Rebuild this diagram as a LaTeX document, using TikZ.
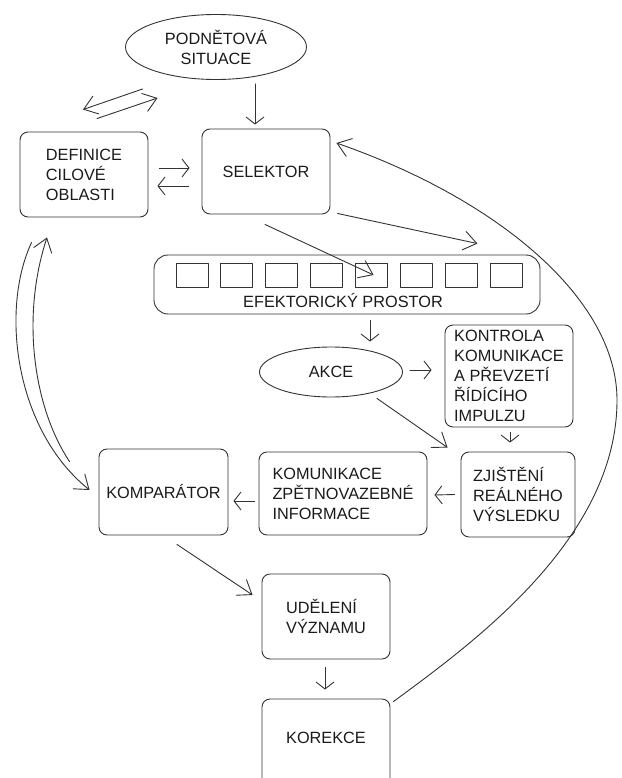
\documentclass[tikz,border=0pt]{standalone}
\usepackage{fontspec}
\setmainfont{Liberation Sans}
\usetikzlibrary{shapes.geometric,arrows.meta,calc}
\definecolor{linec}{HTML}{333333}
\definecolor{txtc}{HTML}{1A1A1A}
\newcommand{\lblfont}{\fontsize{16.3}{20}\selectfont}
\begin{document}
\begin{tikzpicture}[x=1pt,y=-1pt,line cap=round,line join=round,
  box/.style={draw=linec,line width=0.9pt,rounded corners=8pt,inner sep=0pt,align=left,
    text=txtc,font=\lblfont,minimum width=128pt,minimum height=85pt},
  oval/.style={ellipse,draw=linec,line width=0.9pt,inner sep=0pt,align=center,text=txtc,font=\lblfont},
  cell/.style={draw=linec,line width=0.9pt,minimum width=32pt,minimum height=24pt,inner sep=0pt},
  arr/.style={draw=linec,line width=0.9pt,-{Straight Barb[length=13pt,width=19pt]}},
  sarr/.style={draw=linec,line width=0.9pt,-{Straight Barb[length=7pt,width=18pt]}}]
  \useasboundingbox (0,0) rectangle (621,778);
  \node[oval,minimum width=181pt,minimum height=65pt] (sit) at (216,47) {PODNĚTOVÁ\\SITUACE};
  \node[box] (defin) at (84,174.5) {DEFINICE\\CILOVÉ\\OBLASTI};
  \node[box] (sel) at (266,171.5) {SELEKTOR};
  \node[box,rounded corners=14pt,minimum width=386pt,minimum height=59pt] (eff) at (347,284.5) {};
  \foreach \i in {1,...,8}
    \node[cell] (c\i) at ({192+(\i-1)*44.9},275) {};
  \node[text=txtc,font=\lblfont,inner sep=0pt] (efftxt) at (343,301) {EFEKTORICKÝ PROSTOR};
  \node[oval,minimum width=143pt,minimum height=50pt] (akce) at (331,372) {AKCE};
  \node[box,minimum height=102pt] (kontr) at (509,376) {KONTROLA\\KOMUNIKACE\\A PŘEVZETÍ\\ŘÍDÍCÍHO\\IMPULZU};
  \node[box,minimum width=114pt] (zjist) at (518,494.5) {ZJIŠTĚNÍ\\REÁLNÉHO\\VÝSLEDKU};
  \node[box,minimum width=168pt,minimum height=83pt] (komun) at (343,493.5) {KOMUNIKACE\\ZPĚTNOVAZEBNÉ\\INFORMACE};
  \node[box,minimum width=129pt,minimum height=86pt] (kompar) at (163.5,492) {KOMPARÁTOR};
  \node[box] (udel) at (326,616.5) {UDĚLENÍ\\VÝZNAMU};
  \node[box,minimum height=90pt,text depth=12pt] (korek) at (326,744) {KOREKCE};

  \draw[sarr] ($(sit.south)+(39,4)$) -- ($(sel.north)+(-11,-4)$);
  \draw[arr] ($(sit.west)+(17.5,42)$) -- ($(defin.north)+(-1,-22)$);
  \draw[arr] ($(defin.north)+(13,-13)$) -- ($(sit.west)+(32.5,51)$);
  \draw[sarr] ($(defin.east)+(11,-6.5)$) -- ($(sel.west)+(-12,-3.5)$);
  \draw[sarr] ($(sel.west)+(-13,14.5)$) -- ($(defin.east)+(9,11.5)$);
  \draw[arr] ($(sel.south east)+(7,-1)$) -- ($(eff.north east)+(-63,-11)$);
  \draw[arr] ($(sel.south)+(-1,10)$) -- ($(c5.center)+(2,0)$);
  \draw[sarr] ($(eff.south)+(23,6)$) -- ($(akce.north)+(39,-5)$);
  \draw[sarr] ($(akce.east)+(7,-2)$) -- ($(kontr.west)+(-13,-6)$);
  \draw[arr] ($(akce.south)+(46,1)$) -- ($(zjist.north west)+(-13,-4)$);
  \draw[sarr] ($(kontr.south)+(1,5)$) -- ($(zjist.north)+(-8,-9)$);
  \draw[sarr] ($(zjist.west)+(-6,0)$) -- ($(komun.east)+(7,1.5)$);
  \draw[sarr] ($(komun.west)+(-4,7.5)$) -- ($(kompar.east)+(5,9)$);
  \draw[arr] ($(kompar.south)+(13.5,9)$) -- ($(udel.west)+(-9,-21.5)$);
  \draw[sarr] ($(udel.south)+(-1,8)$) -- ($(korek.north)+(-1,-9)$);
  \coordinate (bend) at (617,400);
  \draw[arr] ($(korek.north east)+(3,3)$) .. controls (470,645) and (617,540) .. (bend)
    .. controls (617,300) and (500,200) .. ($(sel.east)+(6,-28.5)$);
  \draw[arr] ($(defin.south west)+(12,25)$) .. controls (0,310) and (15,430) .. ($(kompar.west)+(-9,-2)$);
  \draw[arr] ($(kompar.north west)+(-29,13)$) .. controls (35,410) and (20,320) .. ($(defin.south)+(-37,20)$);
\end{tikzpicture}
\end{document}
